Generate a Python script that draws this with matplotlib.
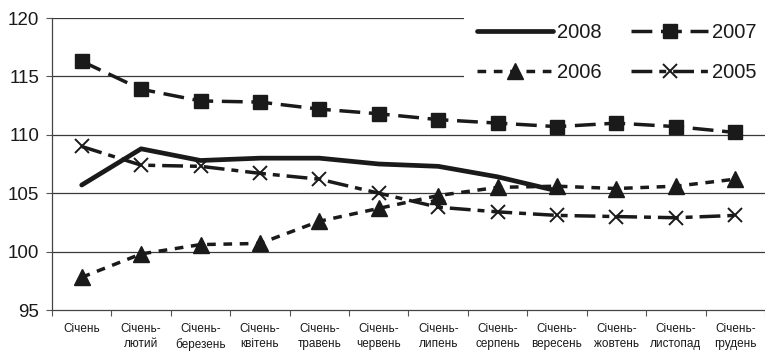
import matplotlib
matplotlib.use('Agg')
import matplotlib.pyplot as plt
import numpy as np

# --- data ---
months = ['Січень', 'Січень-\nлютий', 'Січень-\nберезень', 'Січень-\nквітень',
          'Січень-\nтравень', 'Січень-\nчервень', 'Січень-\nлипень', 'Січень-\nсерпень',
          'Січень-\nвересень', 'Січень-\nжовтень', 'Січень-\nлистопад', 'Січень-\nгрудень']
y2008 = [105.7, 108.8, 107.8, 108.0, 108.0, 107.5, 107.3, 106.4, 105.2]
y2007 = [116.3, 113.9, 112.9, 112.8, 112.2, 111.8, 111.3, 111.0, 110.7, 111.0, 110.7, 110.2]
y2006 = [97.8, 99.8, 100.6, 100.7, 102.6, 103.7, 104.8, 105.5, 105.6, 105.4, 105.6, 106.2]
y2005 = [109.0, 107.4, 107.3, 106.7, 106.2, 105.0, 103.8, 103.4, 103.1, 103.0, 102.9, 103.1]
yticks = [95, 100, 105, 110, 115, 120]

INK = '#1a1a1a'
plt.rcParams['font.family'] = ['Liberation Sans', 'DejaVu Sans']

fig = plt.figure(figsize=(7.65, 3.51), dpi=100)
ax = fig.add_axes([52 / 765, 1 - 310 / 351, 713 / 765, 292 / 351])

x = np.arange(len(months))
l08, = ax.plot(x[:len(y2008)], y2008, color=INK, lw=3.4, solid_capstyle='round',
               solid_joinstyle='round', label='2008', zorder=5)
l07, = ax.plot(x, y2007, color=INK, lw=2.5, linestyle=(0, (6, 2.5)), marker='s',
               markersize=9.5, label='2007', zorder=4)
l06, = ax.plot(x, y2006, color=INK, lw=2.5, linestyle=(0, (2.5, 2.2)), marker='^',
               markersize=11, label='2006', zorder=4)
l05, = ax.plot(x, y2005, color=INK, lw=2.5, linestyle=(0, (6, 2, 2, 2)), marker='x',
               markersize=10, markeredgewidth=1.4, label='2005', zorder=4)

ax.set_ylim(95, 120)
ax.set_xlim(-0.5, len(months) - 0.5)
ax.set_yticks(yticks)
ax.set_yticklabels([str(v) for v in yticks], fontsize=13.5, color=INK)
for v in yticks[1:]:
    ax.axhline(v, color='#3a3a3a', lw=0.9, zorder=1)

ax.set_xticks(x)
ax.set_xticklabels(months, fontsize=8.5, color=INK, linespacing=1.35, va='top')
ax.set_xticks(np.arange(len(months) + 1) - 0.5, minor=True)
ax.tick_params(axis='x', which='major', length=0, pad=9)
ax.tick_params(axis='x', which='minor', length=4, width=0.8, color='#555555')
ax.tick_params(axis='y', length=4, width=0.8, color='#555555', pad=5)

for s in ['top', 'right']:
    ax.spines[s].set_visible(False)
ax.spines['left'].set_color('#444444')
ax.spines['bottom'].set_color('#444444')
ax.spines['left'].set_linewidth(0.9)
ax.spines['bottom'].set_linewidth(0.9)

# row-wise order: 2008 2007 / 2006 2005
fig.legend(handles=[l08, l06, l07, l05], loc='upper right',
           bbox_to_anchor=(1.019, 1.0), ncol=2, numpoints=1,
           fontsize=14.5, handlelength=3.8, handletextpad=0.2, columnspacing=1.45,
           labelspacing=1.05, borderpad=0.65, frameon=True, facecolor='white',
           edgecolor='none', framealpha=1, fancybox=False, labelcolor=INK)

fig.savefig('out.png', dpi=100)
